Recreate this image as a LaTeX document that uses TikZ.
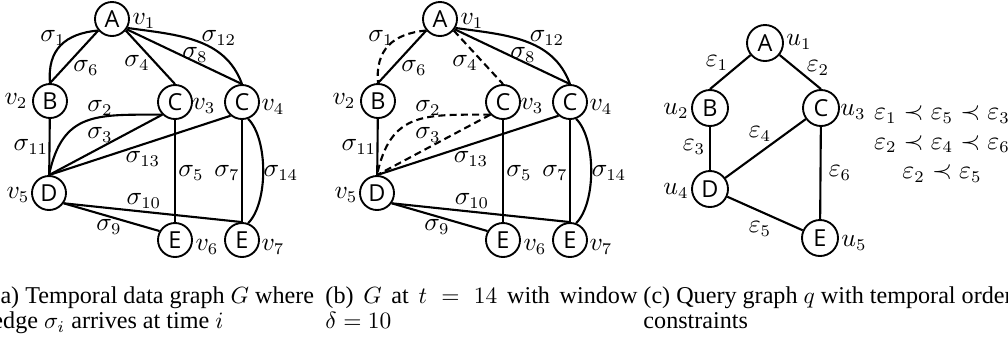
\documentclass[tikz,border=0pt]{standalone}
\usepackage{amsmath,amssymb}
\usepackage{fontspec}
\setmainfont{Liberation Serif}
\newfontfamily\vertexfont{Open Sans}
\usepackage{tikz}
\tikzset{
  vertex/.style={
    circle,
    draw=black,
    line width=0.8pt,
    inner sep=0pt,
    minimum size=5.1mm,
    font=\vertexfont\fontsize{10}{10}\selectfont
  },
  queryVertex/.style={
    vertex,
    minimum size=5.4mm
  },
  edge/.style={
    line width=0.9pt,
    draw=black
  },
  expiredEdge/.style={
    edge,
    dash pattern=on 3pt off 1.8pt
  },
  tag/.style={
    inner sep=0pt,
    font=\fontsize{10.5}{12.6}\selectfont
  },
  subcaption/.style={
    anchor=north west,
    inner sep=0pt,
    align=justify,
    font=\fontsize{10.3}{10.9}\selectfont
  }
}

\begin{document}
\begin{tikzpicture}[x=0.015cm,y=0.015cm]
  \useasboundingbox (0,0) rectangle (1008,-341);
  % (a) temporal data graph
  \node[vertex] (av1) at (112,-19) {A};
  \node[vertex] (av2) at (50,-101) {B};
  \node[vertex] (av3) at (175,-102) {C};
  \node[vertex] (av4) at (242,-102) {C};
  \node[vertex] (av5) at (49,-193) {D};
  \node[vertex] (av6) at (175,-240) {E};
  \node[vertex] (av7) at (242,-240) {E};
  \node[tag] (av1id) at (144,-21) {$v_1$};
  \node[tag] (av2id) at (16,-101) {$v_2$};
  \node[tag] (av3id) at (204,-106) {$v_3$};
  \node[tag] (av4id) at (273,-107) {$v_4$};
  \node[tag] (av5id) at (18,-195) {$v_5$};
  \node[tag] (av6id) at (207,-247) {$v_6$};
  \node[tag] (av7id) at (273,-247) {$v_7$};
  \draw[edge] (av1.220) to[out=185,in=95,looseness=1.2] (av2.north);
  \draw[edge] (av1.220) -- (av2.north);
  \draw[edge] (av1.-40) -- (av3.north);
  \draw[edge] (av1.-35) -- (av4.north);
  \draw[edge] (av1.-30) to[out=-8,in=110] (av4.north);
  \draw[edge] (av2) -- (av5);
  \draw[edge] (av3.225) to[out=180,in=78,looseness=1.3] (av5.north);
  \draw[edge] (av3.225) -- (av5.north);
  \draw[edge] (av4.230) -- (av5.north);
  \draw[edge] (av3) -- (av6);
  \draw[edge] (av4) -- (av7);
  \draw[edge] (av4.-70) to[out=-45,in=45,looseness=0.7] (av7.70);
  \draw[edge] (av5.-35) -- (av7.north);
  \draw[edge] (av5.-35) -- (av6.150);
  \node[tag] (asig1) at (53,-38) {$\sigma_1$};
  \node[tag] (asig2) at (100,-108) {$\sigma_2$};
  \node[tag] (asig3) at (100,-135) {$\sigma_3$};
  \node[tag] (asig4) at (137,-63) {$\sigma_4$};
  \node[tag] (asig5) at (191,-173) {$\sigma_5$};
  \node[tag] (asig6) at (86,-68) {$\sigma_6$};
  \node[tag] (asig7) at (227,-173) {$\sigma_7$};
  \node[tag] (asig8) at (195,-55) {$\sigma_8$};
  \node[tag] (asig9) at (109,-227) {$\sigma_9$};
  \node[tag] (asig10) at (144,-201) {$\sigma_{10}$};
  \node[tag] (asig11) at (31,-147) {$\sigma_{11}$};
  \node[tag] (asig12) at (219,-38) {$\sigma_{12}$};
  \node[tag] (asig13) at (143,-159) {$\sigma_{13}$};
  \node[tag] (asig14) at (281,-173) {$\sigma_{14}$};
  % (b) the same graph at t = 14
  \node[vertex] (bv1) at (440,-19) {A};
  \node[vertex] (bv2) at (378,-101) {B};
  \node[vertex] (bv3) at (503,-102) {C};
  \node[vertex] (bv4) at (570,-102) {C};
  \node[vertex] (bv5) at (377,-193) {D};
  \node[vertex] (bv6) at (503,-240) {E};
  \node[vertex] (bv7) at (570,-240) {E};
  \node[tag] (bv1id) at (472,-21) {$v_1$};
  \node[tag] (bv2id) at (344,-101) {$v_2$};
  \node[tag] (bv3id) at (532,-106) {$v_3$};
  \node[tag] (bv4id) at (601,-107) {$v_4$};
  \node[tag] (bv5id) at (346,-195) {$v_5$};
  \node[tag] (bv6id) at (535,-247) {$v_6$};
  \node[tag] (bv7id) at (601,-247) {$v_7$};
  \draw[expiredEdge] (bv1.220) to[out=185,in=95,looseness=1.2] (bv2.north);
  \draw[edge] (bv1.220) -- (bv2.north);
  \draw[expiredEdge] (bv1.-40) -- (bv3.north);
  \draw[edge] (bv1.-35) -- (bv4.north);
  \draw[edge] (bv1.-30) to[out=-8,in=110] (bv4.north);
  \draw[edge] (bv2) -- (bv5);
  \draw[expiredEdge] (bv3.225) to[out=180,in=78,looseness=1.3] (bv5.north);
  \draw[expiredEdge] (bv3.225) -- (bv5.north);
  \draw[edge] (bv4.230) -- (bv5.north);
  \draw[edge] (bv3) -- (bv6);
  \draw[edge] (bv4) -- (bv7);
  \draw[edge] (bv4.-70) to[out=-45,in=45,looseness=0.7] (bv7.70);
  \draw[edge] (bv5.-35) -- (bv7.north);
  \draw[edge] (bv5.-35) -- (bv6.150);
  \node[tag] (bsig1) at (381,-38) {$\sigma_1$};
  \node[tag] (bsig2) at (428,-108) {$\sigma_2$};
  \node[tag] (bsig3) at (428,-135) {$\sigma_3$};
  \node[tag] (bsig4) at (465,-63) {$\sigma_4$};
  \node[tag] (bsig5) at (519,-173) {$\sigma_5$};
  \node[tag] (bsig6) at (414,-68) {$\sigma_6$};
  \node[tag] (bsig7) at (555,-173) {$\sigma_7$};
  \node[tag] (bsig8) at (523,-55) {$\sigma_8$};
  \node[tag] (bsig9) at (437,-227) {$\sigma_9$};
  \node[tag] (bsig10) at (472,-201) {$\sigma_{10}$};
  \node[tag] (bsig11) at (359,-147) {$\sigma_{11}$};
  \node[tag] (bsig12) at (547,-38) {$\sigma_{12}$};
  \node[tag] (bsig13) at (471,-159) {$\sigma_{13}$};
  \node[tag] (bsig14) at (609,-173) {$\sigma_{14}$};
  % (c) query graph
  \node[queryVertex] (qu1) at (765,-43) {A};
  \node[queryVertex] (qu2) at (710,-108) {B};
  \node[queryVertex] (qu3) at (821,-108) {C};
  \node[queryVertex] (qu4) at (710,-189) {D};
  \node[queryVertex] (qu5) at (820,-238) {E};
  \node[tag] (qu1id) at (799,-42) {$u_1$};
  \node[tag] (qu2id) at (676,-111) {$u_2$};
  \node[tag] (qu3id) at (853,-112) {$u_3$};
  \node[tag] (qu4id) at (676,-191) {$u_4$};
  \node[tag] (qu5id) at (854,-243) {$u_5$};
  \draw[edge] (qu1) -- (qu2.north);
  \draw[edge] (qu1) -- (qu3.north);
  \draw[edge] (qu2) -- (qu4);
  \draw[edge] (qu3) -- (qu4);
  \draw[edge] (qu4) -- (qu5);
  \draw[edge] (qu3) -- (qu5);
  \node[tag] (qe1) at (717,-63) {$\varepsilon_1$};
  \node[tag] (qe2) at (818,-68) {$\varepsilon_2$};
  \node[tag] (qe3) at (694,-147) {$\varepsilon_3$};
  \node[tag] (qe4) at (760,-134) {$\varepsilon_4$};
  \node[tag] (qe5) at (760,-229) {$\varepsilon_5$};
  \node[tag] (qe6) at (840,-173) {$\varepsilon_6$};
  \node[tag,align=center] (order) at (942,-144)
    {$\varepsilon_1 \prec \varepsilon_5 \prec \varepsilon_3$\\
     $\varepsilon_2 \prec \varepsilon_4 \prec \varepsilon_6$\\
     $\varepsilon_2 \prec \varepsilon_5$};
  % captions
  \node[subcaption,text width=5cm] (capa) at (-8,-286)
    {(a) Temporal data graph $G$ where\\ edge $\sigma_i$ arrives at time $i$};
  \node[subcaption,text width=4.68cm] (capb) at (325,-286)
    {(b) $G$ at $t = 14$ with window\linebreak $\delta = 10$};
  \node[subcaption,text width=6.2cm] (capc) at (643,-286)
    {(c) Query graph $q$ with temporal order\\ constraints};
\end{tikzpicture}
\end{document}
